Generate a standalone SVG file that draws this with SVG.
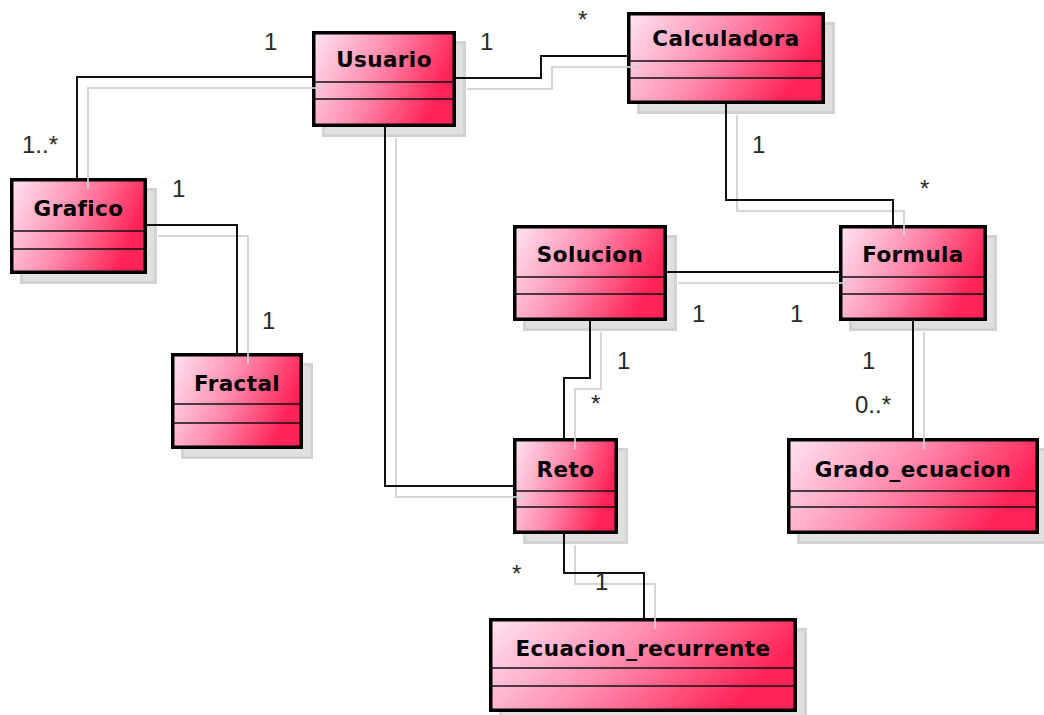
<svg xmlns="http://www.w3.org/2000/svg" width="1044" height="715" viewBox="0 0 1044 715">
  <defs>
    <linearGradient id="fillPink" x1="0" y1="0" x2="1" y2="0.3">
      <stop offset="0" stop-color="#ffe4f3"/>
      <stop offset="0.5" stop-color="#ff8db0"/>
      <stop offset="1" stop-color="#ff2356"/>
    </linearGradient>
  </defs>
  <style>
    .shadow { fill: #e0e0e0; stroke: #d2d2d2; stroke-width: 3; }
    .box { fill: url(#fillPink); stroke: #000; stroke-width: 3.5; }
    .div { stroke: #111; stroke-width: 1.6; }
    .name { font-family: "DejaVu Sans", "Liberation Sans", sans-serif; font-weight: bold; font-size: 21.5px; letter-spacing: 0.4px; text-anchor: middle; fill: #000; }
    .wire { fill: none; stroke: #111; stroke-width: 2; }
    .wire-shadow { fill: none; stroke: #cfcfcf; stroke-width: 2; opacity: 0.85; }
    .mult { font-family: "Liberation Sans", Arial, sans-serif; font-size: 24px; fill: #2a2a2a; }
  </style>
  <rect width="1044" height="715" fill="#fff"/>

  <!-- class boxes: shadow, body, compartment dividers, name -->
  <g id="Usuario">
    <rect class="shadow" x="323.5" y="42.5" width="141" height="93"/>
    <rect class="box" x="313.75" y="32.75" width="140.5" height="92.5"/>
    <line class="div" x1="312" y1="82" x2="456" y2="82"/>
    <line class="div" x1="312" y1="99" x2="456" y2="99"/>
    <text class="name" x="384" y="66.5">Usuario</text>
  </g>
  <g id="Calculadora">
    <rect class="shadow" x="638.5" y="23.5" width="195" height="89"/>
    <rect class="box" x="628.75" y="13.75" width="194.5" height="88.5"/>
    <line class="div" x1="627" y1="61" x2="825" y2="61"/>
    <line class="div" x1="627" y1="78" x2="825" y2="78"/>
    <text class="name" x="726" y="46">Calculadora</text>
  </g>
  <g id="Grafico">
    <rect class="shadow" x="21.5" y="189.5" width="134" height="93"/>
    <rect class="box" x="11.75" y="179.75" width="133.5" height="92.5"/>
    <line class="div" x1="10" y1="231" x2="147" y2="231"/>
    <line class="div" x1="10" y1="249" x2="147" y2="249"/>
    <text class="name" x="78.5" y="215.5">Grafico</text>
  </g>
  <g id="Fractal">
    <rect class="shadow" x="182.5" y="364.5" width="129" height="93"/>
    <rect class="box" x="172.75" y="354.75" width="128.5" height="92.5"/>
    <line class="div" x1="171" y1="404" x2="303" y2="404"/>
    <line class="div" x1="171" y1="423" x2="303" y2="423"/>
    <text class="name" x="237" y="390.5">Fractal</text>
  </g>
  <g id="Solucion">
    <rect class="shadow" x="524.5" y="236.5" width="151" height="93"/>
    <rect class="box" x="514.75" y="226.75" width="150.5" height="92.5"/>
    <line class="div" x1="513" y1="277" x2="667" y2="277"/>
    <line class="div" x1="513" y1="294" x2="667" y2="294"/>
    <text class="name" x="590" y="262">Solucion</text>
  </g>
  <g id="Formula">
    <rect class="shadow" x="850.5" y="236.5" width="145" height="93"/>
    <rect class="box" x="840.75" y="226.75" width="144.5" height="92.5"/>
    <line class="div" x1="839" y1="277" x2="987" y2="277"/>
    <line class="div" x1="839" y1="294" x2="987" y2="294"/>
    <text class="name" x="913" y="262">Formula</text>
  </g>
  <g id="Reto">
    <rect class="shadow" x="524.5" y="449.5" width="102" height="93"/>
    <rect class="box" x="514.75" y="439.75" width="101.5" height="92.5"/>
    <line class="div" x1="513" y1="491" x2="618" y2="491"/>
    <line class="div" x1="513" y1="507" x2="618" y2="507"/>
    <text class="name" x="565.5" y="476.5">Reto</text>
  </g>
  <g id="Grado_ecuacion">
    <rect class="shadow" x="798.5" y="449.5" width="249" height="93"/>
    <rect class="box" x="788.75" y="439.75" width="248.5" height="92.5"/>
    <line class="div" x1="787" y1="491" x2="1039" y2="491"/>
    <line class="div" x1="787" y1="507" x2="1039" y2="507"/>
    <text class="name" x="913" y="476.5">Grado_ecuacion</text>
  </g>
  <g id="Ecuacion_recurrente">
    <rect class="shadow" x="500.5" y="629.5" width="305" height="91"/>
    <rect class="box" x="490.75" y="619.75" width="304.5" height="90.5"/>
    <line class="div" x1="489" y1="668" x2="797" y2="668"/>
    <line class="div" x1="489" y1="686" x2="797" y2="686"/>
    <text class="name" x="643" y="655.5">Ecuacion_recurrente</text>
  </g>

  <!-- associations -->
  <g id="connectors">
    <g transform="translate(11,11)">
      <path class="wire-shadow" d="M312,77 H77 V178"/>
      <path class="wire-shadow" d="M456,78 H541 V56 H627"/>
      <path class="wire-shadow" d="M385,127 V486 H513"/>
      <path class="wire-shadow" d="M147,225 H237 V353"/>
      <path class="wire-shadow" d="M726,104 V200 H893 V225"/>
      <path class="wire-shadow" d="M667,272 H839"/>
      <path class="wire-shadow" d="M590,321 V378 H564 V438"/>
      <path class="wire-shadow" d="M913,321 V438"/>
      <path class="wire-shadow" d="M564,534 V573 H644 V618"/>
    </g>
    <path class="wire" d="M312,77 H77 V178"/>
    <path class="wire" d="M456,78 H541 V56 H627"/>
    <path class="wire" d="M385,127 V486 H513"/>
    <path class="wire" d="M147,225 H237 V353"/>
    <path class="wire" d="M726,104 V200 H893 V225"/>
    <path class="wire" d="M667,272 H839"/>
    <path class="wire" d="M590,321 V378 H564 V438"/>
    <path class="wire" d="M913,321 V438"/>
    <path class="wire" d="M564,534 V573 H644 V618"/>

    <!-- multiplicities -->
    <text class="mult" x="264" y="50">1</text>
    <text class="mult" x="22" y="153">1..*</text>
    <text class="mult" x="480" y="50">1</text>
    <text class="mult" x="578" y="28">*</text>
    <text class="mult" x="172" y="197">1</text>
    <text class="mult" x="262" y="329">1</text>
    <text class="mult" x="752" y="153">1</text>
    <text class="mult" x="920" y="197">*</text>
    <text class="mult" x="692" y="322">1</text>
    <text class="mult" x="790" y="322">1</text>
    <text class="mult" x="617" y="369">1</text>
    <text class="mult" x="591" y="412">*</text>
    <text class="mult" x="862" y="369">1</text>
    <text class="mult" x="855" y="413">0..*</text>
    <text class="mult" x="512" y="582">*</text>
    <text class="mult" x="595" y="590">1</text>
  </g>
</svg>
